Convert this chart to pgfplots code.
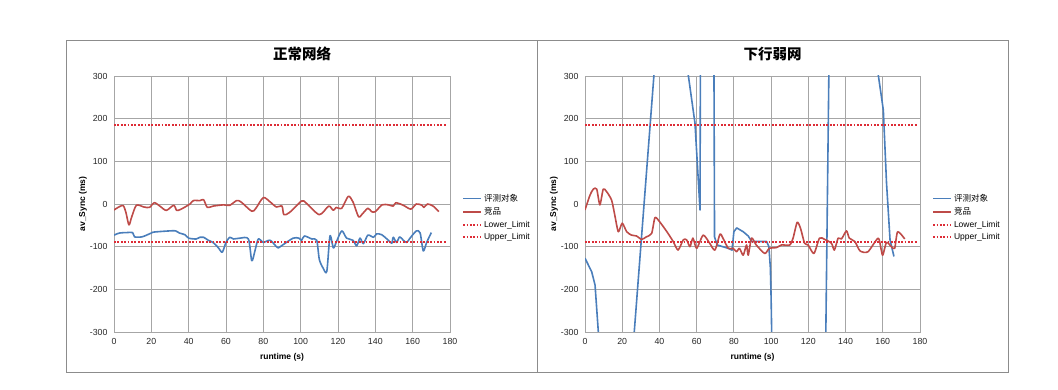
\documentclass[border=0pt]{standalone}
\usepackage{fontspec}
\setmainfont{Liberation Sans}
\newfontfamily\cjk{Noto Sans CJK SC}
\usepackage{pgfplots}
\pgfplotsset{compat=1.18}
\definecolor{sblue}{HTML}{4A7EBB}
\definecolor{sred}{HTML}{BE4B48}
\definecolor{lim}{HTML}{DD2C36}
\definecolor{gridc}{HTML}{A6A6A6}
\definecolor{framec}{HTML}{8C8C8C}
\pgfplotsset{panel/.style={
  scale only axis, height=256pt, anchor=south west,
  xmin=0, xmax=180, ymin=-300, ymax=300,
  xtick={0,20,...,180}, ytick={-300,-200,...,300},
  grid=major, grid style={gridc, line width=0.9pt},
  axis line style={gridc, line width=0.9pt},
  major tick length=0pt,
  tick label style={font=\fontsize{8.8}{10}\selectfont, text=black!85},
  /pgf/number format/assume math mode=true,
  yticklabel style={xshift=-3pt},
  xticklabel style={yshift=-3pt},
  xlabel={runtime (s)}, ylabel={av\_Sync (ms)},
  label style={font=\bfseries\fontsize{8.5}{10}\selectfont},
  xlabel style={at={(axis description cs:0.5,0)}, anchor=center, yshift=-25pt},
  legend style={draw=none, fill=none, at={(axis description cs:1,0.447)}, anchor=west, xshift=12pt,
    font=\fontsize{8.5}{10}\selectfont, row sep=0.8pt, inner sep=0pt, cells={anchor=west}},
  legend image code/.code={\draw[#1] (0pt,0pt) -- (18pt,0pt);},
  every axis plot/.append style={line join=round},
  limline/.style={lim, line width=1.8pt, dash pattern=on 1.7pt off 1.7pt},
}}
\begin{document}
\begin{tikzpicture}
\useasboundingbox (0,0) rectangle (1058pt,390pt);
\draw[framec, line width=0.8pt] (66pt,18pt) rectangle (537.5pt,350pt);
\draw[framec, line width=0.8pt] (537.5pt,18pt) rectangle (1008pt,350pt);
\node[font=\cjk\bfseries\fontsize{14.5}{16}\selectfont] at (302pt,336pt) {正常网络};
\node[font=\cjk\bfseries\fontsize{14.5}{16}\selectfont] at (772.5pt,336pt) {下行弱网};

\begin{axis}[panel, width=336pt, at={(114pt,58pt)},
  ylabel style={at={(axis description cs:-0.0923,0.5)}, anchor=center}]
\addplot[sblue, line width=1.6pt, smooth, tension=0.45] coordinates {
(0,-73)(3,-68)(6.8,-67)(10,-67)(11,-77)(15,-77)(19,-70)(21,-66)(30,-63)(33,-63)(35,-68)(38,-72)(40,-80)(44,-82)(46,-78)(48,-78)(50.5,-85)(53,-90)(56,-103)(58,-113)(60,-90)(62,-78)(64,-82)(67.5,-80)(72,-82)(73.8,-133)(75.5,-110)(77.3,-82)(80,-90)(83.6,-85)(87,-100)(88,-103)(90.7,-95)(96,-80)(99,-80)(100.5,-85)(102,-75)(106,-82)(108.6,-85)(110,-130)(112,-150)(114,-158)(115.7,-75)(117.5,-103)(119,-90)(122,-63)(124.6,-80)(128,-85)(130,-98)(131.8,-80)(133.6,-93)(136,-73)(139,-78)(140.7,-70)(143.4,-72)(147,-85)(148.8,-92)(149.6,-78)(151.4,-90)(153,-77)(155,-85)(156.8,-90)(158.6,-80)(162,-63)(164,-68)(165.7,-110)(167.5,-90)(170,-67)};
\addlegendentry{{\cjk 评测对象}}
\addplot[sred, line width=1.6pt, smooth, tension=0.45] coordinates {
(0,-14)(3,-6)(5,-4)(6.4,-20)(8,-49)(9.5,-30)(12,-3)(16,-7)(19,-8)(21.6,3)(24.6,-5)(28,-15)(32,-3)(33.6,-15)(36,-12)(40.7,0)(42.5,8)(46,8)(48,10)(50,-8)(53,-5)(58.6,-2)(62,-3)(65.7,8)(68,5)(73.8,-17)(76,-10)(80,15)(83.6,5)(87,-7)(90,-5)(91,-25)(94,-20)(100.5,7)(103,2)(110,-25)(115,-5)(117.5,-15)(119,-8)(122,-10)(125.5,18)(128,5)(131,-30)(132.7,-25)(136,-10)(138,-18)(140,-18)(143.6,-2)(147,-2)(149.6,-5)(151,3)(155,-3)(159,-12)(162,0)(165,-3)(166,-8)(168,0)(171,-5)(174,-18)};
\addlegendentry{{\cjk 竞品}}
\addplot[limline] coordinates {(0,-90)(178.5,-90)};
\addlegendentry{Lower\_Limit}
\addplot[limline] coordinates {(0,185)(178.5,185)};
\addlegendentry{Upper\_Limit}
\end{axis}

\begin{axis}[panel, width=335pt, at={(585pt,58pt)},
  ylabel style={at={(axis description cs:-0.0925,0.5)}, anchor=center}]
\addplot[sblue, line width=1.6pt] coordinates {
(0,-127)(3.6,-159)(5.4,-190)(7.5,-321)(24,-440)(40,470)(55.5,302)(59.1,189)(61.8,-14)(62.3,800)(69,700)(69.6,-77)(71,-96)(77,-104)(79,-108)(80,-65)(81.5,-56)(85,-65)(87.7,-75)(89.6,-88)(97.6,-88)(98.8,-100)(99.6,-150)(100,-220)(100.3,-300)(100.6,-400)(129,-450)(131.5,480)(157.5,305)(160.3,220)(162,50)(163.9,-84)(166,-123)};
\addlegendentry{{\cjk 评测对象}}
\addplot[sred, line width=1.6pt, smooth, tension=0.4] coordinates {
(0,-14)(2.7,21)(4.5,35)(6.3,35)(8,-2)(9.8,35)(11.6,29)(14.3,9)(16,-26)(17.9,-65)(20,-45)(22.4,-65)(25,-73)(27.7,-75)(30.4,-83)(33,-77)(35.8,-69)(37.6,-32)(40,-41)(44,-65)(47.4,-88)(50,-108)(52.8,-84)(54.6,-84)(56.4,-100)(58,-80)(60,-104)(63.5,-73)(67,-92)(69.8,-108)(72.5,-71)(74,-79)(77,-104)(79.6,-104)(81.4,-112)(83,-104)(85,-120)(86.8,-96)(87.7,-120)(89.5,-80)(92,-96)(96.6,-116)(99,-104)(103,-102)(105.6,-96)(110,-96)(111.8,-80)(114,-43)(115.8,-57)(118,-92)(119.9,-96)(123,-116)(126,-80)(128.8,-83)(132.4,-92)(134,-108)(136,-80)(137.8,-82)(140.5,-63)(142,-80)(145,-88)(147.8,-110)(152,-112)(157.5,-80)(159,-104)(160,-120)(162,-90)(164.6,-100)(166.4,-104)(168,-65)(171.8,-82)};
\addlegendentry{{\cjk 竞品}}
\addplot[limline] coordinates {(0,-90)(178.5,-90)};
\addlegendentry{Lower\_Limit}
\addplot[limline] coordinates {(0,185)(178.5,185)};
\addlegendentry{Upper\_Limit}
\end{axis}
\end{tikzpicture}
\end{document}
